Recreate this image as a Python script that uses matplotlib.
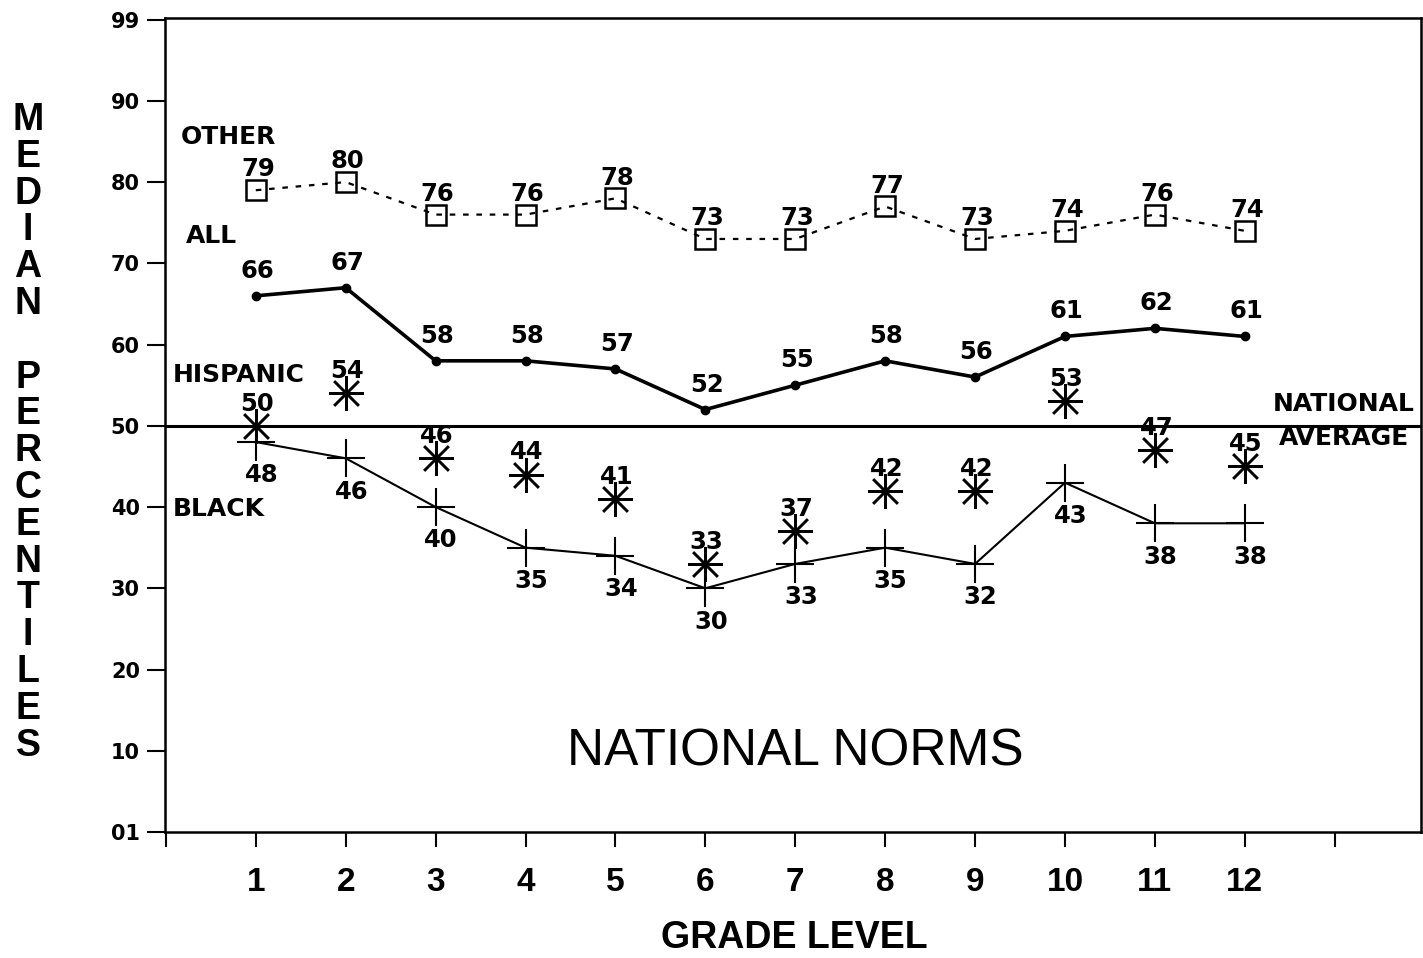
import matplotlib
matplotlib.use("Agg")
import matplotlib.pyplot as plt

grades = [1, 2, 3, 4, 5, 6, 7, 8, 9, 10, 11, 12]
other = [79, 80, 76, 76, 78, 73, 73, 77, 73, 74, 76, 74]
all_students = [66, 67, 58, 58, 57, 52, 55, 58, 56, 61, 62, 61]
hispanic = [50, 54, 46, 44, 41, 33, 37, 42, 42, 53, 47, 45]
black = [48, 46, 40, 35, 34, 30, 33, 35, 33, 43, 38, 38]
black_labels = ["48", "46", "40", "35", "34", "30", "33", "35", "32", "43", "38", "38"]
national_average = 50
y_ticks = [0, 10, 20, 30, 40, 50, 60, 70, 80, 90, 100]
y_tick_labels = ["01", "10", "20", "30", "40", "50", "60", "70", "80", "90", "99"]
x_ticks = list(range(0, 14))
x_tick_labels = [""] + [str(g) for g in grades] + [""]

W, H = 1423, 958
fig = plt.figure(figsize=(W / 100, H / 100), dpi=100)
ax = fig.add_axes([165 / W, 1 - 832 / H, (1421 - 165) / W, (832 - 18) / H])
ax.set_xlim(-0.01, 13.96)
ax.set_ylim(0, 100.2)

NUM = dict(family="DejaVu Sans", fontweight="bold", fontsize=17.5, color="black")
LAB = dict(family="DejaVu Sans", fontweight="bold", fontsize=18, color="black")

# national average
ax.axhline(national_average, color="black", lw=2.2, zorder=2)

# OTHER
ax.plot(grades, other, color="black", lw=1.6, ls=(0, (2.5, 3.5)),
        marker="s", ms=15, mfc="none", mec="black", mew=1.8, zorder=3)
# ALL
ax.plot(grades, all_students, color="black", lw=2.6, marker="o", ms=6,
        mfc="black", mec="black", zorder=3)
# HISPANIC
ax.plot(grades, hispanic, ls="none", marker=(8, 2, 0), ms=25, mec="black",
        mew=1.8, color="black", zorder=3)
# BLACK
ax.plot(grades, black, color="black", lw=1.5, marker="+", ms=28, mew=1.5, zorder=3)

for g, v in zip(grades, other):
    ax.annotate(str(v), (g, v), xytext=(1.5, 15), textcoords="offset points",
                ha="center", va="center", **NUM)
for g, v in zip(grades, all_students):
    ax.annotate(str(v), (g, v), xytext=(1, 18), textcoords="offset points",
                ha="center", va="center", **NUM)
for g, v in zip(grades, hispanic):
    ax.annotate(str(v), (g, v), xytext=(1, 16), textcoords="offset points",
                ha="center", va="center", **NUM)
for g, v, s in zip(grades, black, black_labels):
    ax.annotate(s, (g, v), xytext=(4, -24), textcoords="offset points",
                ha="center", va="center", **NUM)

# series names
ax.text(0.16, 85.5, "OTHER", ha="left", va="center", **LAB)
ax.text(0.22, 73.4, "ALL", ha="left", va="center", **LAB)
ax.text(0.08, 56.2, "HISPANIC", ha="left", va="center", **LAB)
ax.text(0.08, 39.7, "BLACK", ha="left", va="center", **LAB)
ax.text(13.1, 52.7, "NATIONAL", ha="center", va="center", **LAB)
ax.text(13.1, 48.5, "AVERAGE", ha="center", va="center", **LAB)

ax.text(7.0, 9.9, "NATIONAL NORMS", ha="center", va="center",
        family="Liberation Sans", fontsize=37, color="black")

ax.set_yticks(y_ticks)
ax.set_yticklabels(y_tick_labels, family="DejaVu Sans", fontweight="bold", fontsize=15)
ax.set_xticks(x_ticks)
ax.set_xticklabels(x_tick_labels, family="Liberation Sans", fontweight="bold", fontsize=24)
ax.tick_params(axis="y", direction="out", length=13, width=1.5, pad=5)
ax.tick_params(axis="x", direction="out", length=11, width=1.5, pad=14)
for sp in ax.spines.values():
    sp.set_linewidth(1.8)

fig.text(794 / W, 1 - 938 / H, "GRADE LEVEL", ha="center", va="center",
         family="Liberation Sans", fontweight="bold", fontsize=27)

ylabel = "MEDIAN PERCENTILES"
y0, step = 120, 36.8
for i, ch in enumerate(ylabel):
    if ch == " ":
        continue
    fig.text(28 / W, 1 - (y0 + i * step) / H, ch, ha="center", va="center",
             family="Liberation Sans", fontweight="bold", fontsize=27)

fig.savefig("out.png", dpi=100, facecolor="white")
